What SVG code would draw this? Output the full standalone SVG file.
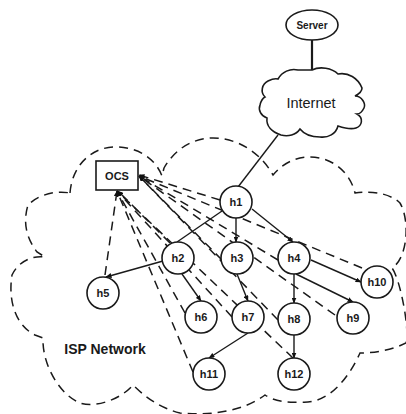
<svg xmlns="http://www.w3.org/2000/svg" width="406" height="414" viewBox="0 0 406 414">
<defs>
<marker id="a" markerWidth="6" markerHeight="5" refX="5.5" refY="2.5" orient="auto" markerUnits="userSpaceOnUse"><path d="M0 0L6 2.5L0 5Z" fill="#111"/></marker>
</defs>
<style>
text{font-family:"Liberation Sans",Arial,sans-serif;fill:#1a1a1a;text-anchor:middle}
.n{font-size:11px;font-weight:bold}
.c{fill:#fff;stroke:#1a1a1a;stroke-width:1.6}
.d{fill:none;stroke:#1a1a1a;stroke-width:1.5;stroke-dasharray:9 6}
.l{fill:none;stroke:#1a1a1a;stroke-width:1.4}
.a{marker-end:url(#a)}
</style>
<rect width="406" height="414" fill="#fff"/>
<g id="isp-cloud">
<path class="d" d="M70 193C72 165 92 147 115 147C138 147 155 158 162 176L164 168C176 147 195 138 213 138C240 138 262 155 273 175C283 163 296 157 310 157C332 157 350 172 355 193C375 190 392 195 400 203C410 220 408 258 392 268C400 278 410 330 406 343C392 350 375 353 360 353C350 375 330 405 300 402C285 403 272 400 265 395C245 410 215 416 180 413C160 408 145 397 133 385C120 400 95 408 80 403C60 395 42 365 43 338L35 335C15 325 8 300 12 275C18 262 32 255 45 257L37 252C28 240 22 225 28 205C38 195 55 190 70 193"/>
</g>
<g id="connectors">
<path class="l" style="stroke-width:2.2" d="M312 40V70"/>
<path class="l" d="M278 135L238 187"/>
<path class="l" d="M222 211L177 242"/>
<path class="l a" d="M236 218V242"/>
<path class="l a" d="M252 209L293 242"/>
<path class="l a" d="M163 261L106 277"/>
<path class="l a" d="M182 274L201 301"/>
<path class="l a" d="M237 274L248 301"/>
<path class="l a" d="M294 274V303"/>
<path class="l a" d="M296 274L353 302"/>
<path class="l a" d="M311 260L361 282"/>
<path class="l a" d="M248 333L209 358"/>
<path class="l a" d="M294 335V358"/>
<g class="d">
<path class="a" d="M220 200L139 175"/>
<path class="a" d="M170 243L118 191"/>
<path class="a" d="M222 260L139 176"/>
<path class="a" d="M278 260L139 176"/>
<path class="a" d="M105 275L117 191"/>
<path class="a" d="M185 313L117 191"/>
<path class="a" d="M232 317L117 191"/>
<path class="a" d="M278 320L139 176"/>
<path class="a" d="M335 315L139 176"/>
<path class="a" d="M362 268L139 176"/>
<path class="a" d="M193 372L117 191"/>
<path class="a" d="M293 358L117 191"/>
</g>
</g>
<g id="server"><ellipse class="c" cx="312" cy="25" rx="26" ry="15"/><text class="n" x="312" y="29" style="font-size:10px">Server</text></g>
<g id="internet">
<path class="c" d="M312 70C320 66 332 68 338 74C348 72 358 78 362 88C362 92 359 94 355 96C362 96 366 104 364 108C362 112 360 114 357 114C364 118 362 126 356 128C350 130 344 128 338 126C336 134 328 138 320 137C312 137 304 134 300 129C296 135 288 137 281 135C272 132 266 126 267 118C261 116 258 110 260 105C261 101 263 98 265 97C260 92 262 84 268 81C272 79 275 78 278 79C282 72 290 68 298 70C303 70 308 70 312 70Z"/>
<text x="311" y="108" font-size="14.5">Internet</text>
</g>
<g id="ocs"><rect class="c" x="96" y="161" width="42" height="29"/><text class="n" x="117" y="180">OCS</text></g>
<g id="h1"><circle class="c" cx="236" cy="202" r="16"/><text class="n" x="236" y="206">h1</text></g>
<g id="h2"><circle class="c" cx="178" cy="258" r="16"/><text class="n" x="178" y="262">h2</text></g>
<g id="h3"><circle class="c" cx="237" cy="258" r="16"/><text class="n" x="237" y="262">h3</text></g>
<g id="h4"><circle class="c" cx="294" cy="258" r="16"/><text class="n" x="294" y="262">h4</text></g>
<g id="h5"><circle class="c" cx="103" cy="293" r="16"/><text class="n" x="103" y="297">h5</text></g>
<g id="h6"><circle class="c" cx="201" cy="317" r="16"/><text class="n" x="201" y="321">h6</text></g>
<g id="h7"><circle class="c" cx="248" cy="317" r="16"/><text class="n" x="248" y="321">h7</text></g>
<g id="h8"><circle class="c" cx="294" cy="319" r="16"/><text class="n" x="294" y="323">h8</text></g>
<g id="h9"><circle class="c" cx="353" cy="318" r="16"/><text class="n" x="353" y="322">h9</text></g>
<g id="h10"><circle class="c" cx="377" cy="282" r="16"/><text class="n" x="377" y="286">h10</text></g>
<g id="h11"><circle class="c" cx="209" cy="374" r="16"/><text class="n" x="209" y="378">h11</text></g>
<g id="h12"><circle class="c" cx="294" cy="374" r="16"/><text class="n" x="294" y="378">h12</text></g>
<text x="105" y="354" font-size="14" font-weight="bold">ISP Network</text>
</svg>
